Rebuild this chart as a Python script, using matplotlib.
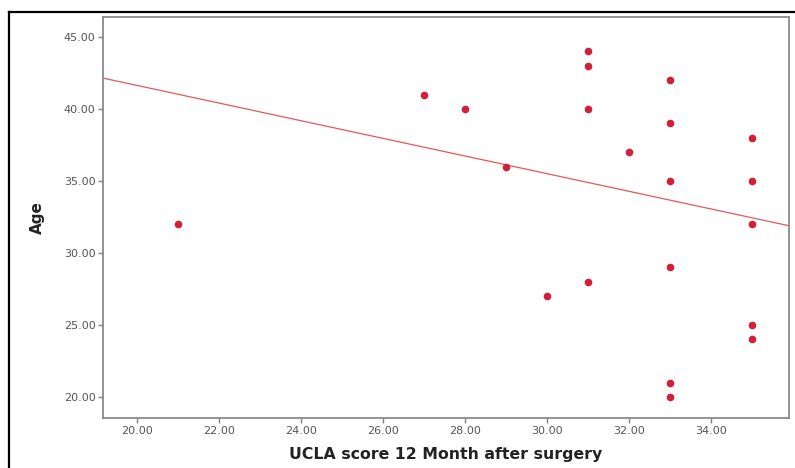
import matplotlib
matplotlib.use("Agg")
import matplotlib.pyplot as plt
from matplotlib.lines import Line2D

# UCLA score 12 months after surgery vs age
ucla = [21, 27, 28, 29, 30, 31, 31, 31, 31, 32,
        33, 33, 33, 33, 33, 33, 35, 35, 35, 35, 35]
age = [32, 41, 40, 36, 27, 44, 43, 40, 28, 37,
       42, 39, 35, 29, 21, 20, 38, 35, 32, 25, 24]

# fit line as drawn
fit_intercept = 53.9
fit_slope = -0.613

x_ticks = [20, 22, 24, 26, 28, 30, 32, 34]
y_ticks = [20, 25, 30, 35, 40, 45]

fig = plt.figure(figsize=(7.95, 4.68), dpi=100)
ax = fig.add_axes([0.1296, 0.1068, 0.8629, 0.8568])

xlim = (19.17, 35.9)
ylim = (18.54, 46.39)
ax.set_xlim(*xlim)
ax.set_ylim(*ylim)

ax.plot(xlim, [fit_intercept + fit_slope * v for v in xlim],
        color="#e05a5a", linewidth=0.9, zorder=2)
ax.plot(ucla, age, "o", color="#d41f3a", markersize=5.5,
        markeredgewidth=0, zorder=3)

ax.set_xticks(x_ticks)
ax.set_xticklabels([f"{v:.2f}" for v in x_ticks])
ax.set_yticks(y_ticks)
ax.set_yticklabels([f"{v:.2f}" for v in y_ticks])
ax.tick_params(direction="out", length=3.5, width=1, color="#808080",
               labelsize=8, labelcolor="#555555", pad=2)

for s in ax.spines.values():
    s.set_color("#8a8a8a")
    s.set_linewidth(1.3)

ax.set_xlabel("UCLA score 12 Month after surgery", fontsize=11.3,
              fontweight="bold", color="#222222")
ax.xaxis.set_label_coords(0.5, -0.072)
ax.set_ylabel("Age", fontsize=11, fontweight="bold", color="#222222")
ax.yaxis.set_label_coords(-0.085, 0.5)

# outer frame around the chart
x0 = 9 / 795
y0 = 1 - 12 / 468
fig.add_artist(Line2D([x0, x0], [0, y0], transform=fig.transFigure,
                      color="black", linewidth=1.6))
fig.add_artist(Line2D([x0, 1], [y0, y0], transform=fig.transFigure,
                      color="black", linewidth=1.6))

fig.savefig("out.png", dpi=100)
